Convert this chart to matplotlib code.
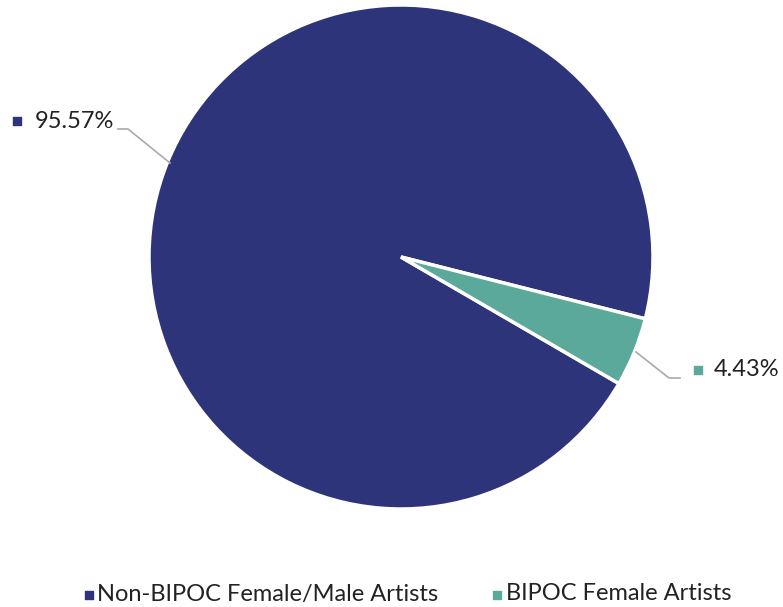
import matplotlib
matplotlib.use("Agg")
import matplotlib.pyplot as plt

categories = ["Non-BIPOC Female/Male Artists", "BIPOC Female Artists"]
values = [95.57, 4.43]
value_labels = ["95.57%", "4.43%"]
colors = ["#2e3479", "#5ba99b"]

plt.rcParams['font.family'] = ['Lato', 'DejaVu Sans']

W, H = 783, 607
fig = plt.figure(figsize=(W / 100, H / 100), dpi=100)
ax = fig.add_axes([0, 0, 1, 1])

cx, cy, r = 401, H - 257, 252
wedges, _ = ax.pie(values, colors=colors, startangle=-14.2, counterclock=True,
                   center=(cx, cy), radius=r, frame=True,
                   wedgeprops=dict(edgecolor='white', linewidth=2.5))
ax.set_xlim(0, W)
ax.set_ylim(0, H)
ax.set_aspect('equal')
ax.axis('off')

txt_color = "#222222"
line_color = "#aaaaaa"
# Left label (95.57%)
ax.plot([118, 128, 170], [H - 129, H - 129, H - 163], color=line_color, lw=1.2)
ax.scatter([17], [H - 121], marker='s', s=28, color=colors[0])
ax.text(35, H - 121, value_labels[0], fontsize=17, color=txt_color, va='center', ha='left')
# Right label (4.43%)
ax.plot([636, 669, 680], [H - 352, H - 378, H - 378], color=line_color, lw=1.2)
ax.scatter([698], [H - 370], marker='s', s=28, color=colors[1])
ax.text(714, H - 370, value_labels[1], fontsize=17, color=txt_color, va='center', ha='left')

# Legend
ax.scatter([89], [H - 595], marker='s', s=28, color=colors[0])
ax.text(97, H - 594, categories[0], fontsize=17, color=txt_color, va='center', ha='left')
ax.scatter([497], [H - 595], marker='s', s=28, color=colors[1])
ax.text(506, H - 594, categories[1], fontsize=17, color=txt_color, va='center', ha='left')

fig.savefig("out.png", dpi=100, facecolor='white')
